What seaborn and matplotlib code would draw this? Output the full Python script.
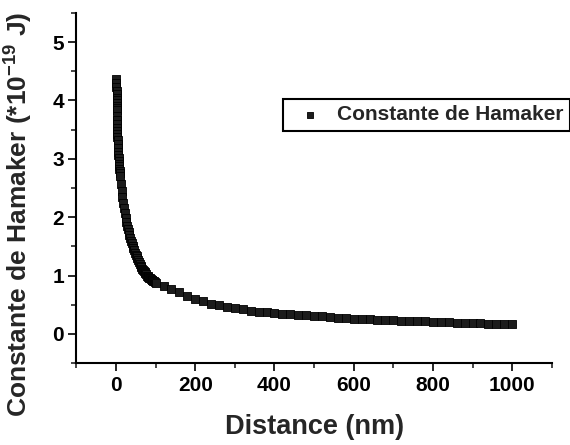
import matplotlib
matplotlib.use("Agg")
from matplotlib import pyplot as plt
from matplotlib.ticker import MultipleLocator
import seaborn as sns
import pandas as pd

# distancias (nm) y constante de Hamaker (*1e-19 J)
dist_near = [1.0, 1.1, 1.2, 1.3, 1.4, 1.5, 1.6, 1.7, 1.8, 1.9, 2.0,
             2.25, 2.5, 2.75, 3.0, 3.25, 3.5, 3.75, 4.0,
             4.5, 5, 5.5, 6, 6.5, 7, 7.5, 8, 8.5, 9, 9.5]
ham_near = [4.37, 4.30, 4.23, 4.17, 4.11, 4.05, 4.00, 3.95, 3.91, 3.87, 3.83,
            3.74, 3.66, 3.59, 3.53, 3.47, 3.42, 3.37, 3.33,
            3.25, 3.18, 3.12, 3.06, 3.01, 2.96, 2.91, 2.87, 2.83, 2.79, 2.75]

dist_mid = [10, 12, 14, 16, 18, 20, 22, 24, 26, 28, 30, 32, 34, 36, 38, 40, 42, 44, 46, 48,
            50, 52, 54, 56, 58, 60, 62, 64, 66, 68, 70, 72, 74, 76, 78, 80, 82, 84, 86, 88,
            90, 92, 94, 96, 98]
ham_mid = [2.70, 2.57, 2.45, 2.34, 2.24, 2.15, 2.07, 1.99, 1.92, 1.85,
           1.79, 1.74, 1.69, 1.64, 1.59, 1.55, 1.51, 1.47, 1.43, 1.39,
           1.36, 1.33, 1.30, 1.27, 1.24, 1.20, 1.17, 1.15, 1.12, 1.10,
           1.08, 1.06, 1.04, 1.02, 1.00, 0.99, 0.97, 0.96, 0.95, 0.94,
           0.93, 0.92, 0.91, 0.90, 0.89]

dist_far = [100, 120, 140, 160, 180, 200, 220, 240, 260, 280, 300, 320, 340, 360, 380,
            400, 420, 440, 460, 480, 500, 520, 540, 560, 580, 600, 620, 640, 660, 680,
            700, 720, 740, 760, 780, 800, 820, 840, 860, 880, 900, 920, 940, 960, 980, 1000]
ham_far = [0.88, 0.82, 0.77, 0.71, 0.65, 0.60, 0.56, 0.52, 0.49, 0.46,
           0.44, 0.42, 0.40, 0.38, 0.37, 0.36, 0.35, 0.34, 0.33, 0.32,
           0.31, 0.30, 0.29, 0.28, 0.27, 0.26, 0.255, 0.25, 0.245, 0.24,
           0.235, 0.23, 0.225, 0.22, 0.215, 0.21, 0.205, 0.20, 0.195, 0.19,
           0.185, 0.18, 0.178, 0.175, 0.172, 0.17]

df = pd.DataFrame({
    "distance": dist_near + dist_mid + dist_far,
    "hamaker": ham_near + ham_mid + ham_far,
})

sns.set_style("ticks")
plt.rcParams["font.family"] = ["Liberation Sans", "DejaVu Sans"]
plt.rcParams["font.weight"] = "bold"
plt.rcParams["mathtext.fontset"] = "custom"
plt.rcParams["mathtext.rm"] = "Liberation Sans:bold"
plt.rcParams["mathtext.bf"] = "Liberation Sans:bold"
plt.rcParams["mathtext.default"] = "bf"

fig = plt.figure(figsize=(5.7, 4.45), dpi=100)
ax = fig.add_axes([0.134, 0.184, 0.834, 0.787])

sns.scatterplot(data=df, x="distance", y="hamaker", marker="s", s=34,
                color="#1c1c1c", edgecolor="black", linewidth=0.6,
                label="Constante de Hamaker", ax=ax)

ax.set_xlim(-100, 1100)
ax.set_ylim(-0.5, 5.5)
ax.xaxis.set_major_locator(MultipleLocator(200))
ax.xaxis.set_minor_locator(MultipleLocator(100))
ax.yaxis.set_major_locator(MultipleLocator(1))
ax.yaxis.set_minor_locator(MultipleLocator(0.5))
sns.despine(ax=ax)
for side in ["left", "bottom"]:
    ax.spines[side].set_linewidth(1.5)
    ax.spines[side].set_color("black")
ax.tick_params(which="major", direction="out", length=6, width=1.2, pad=3,
               labelsize=15, colors="black")
ax.tick_params(which="minor", direction="out", length=3.5, width=1.2)
for lab in ax.get_xticklabels() + ax.get_yticklabels():
    lab.set_fontweight("bold")

ax.set_xlabel("Distance (nm)", fontsize=19.5, fontweight="bold")
ax.set_ylabel("Constante de Hamaker (*10$^{-19}$ J)", fontsize=19, fontweight="bold")
ax.xaxis.set_label_coords(0.5, -0.145)
ax.yaxis.set_label_coords(-0.086, 0.425)

leg = ax.legend(loc="upper left", bbox_to_anchor=(283 / 570, 1 - 99 / 445),
                bbox_transform=fig.transFigure, borderaxespad=0, borderpad=0.3,
                handletextpad=0.3, handlelength=2.0, markerscale=0.75,
                fancybox=False, framealpha=1, edgecolor="black",
                prop={"size": 15, "weight": "bold"})
leg.get_frame().set_linewidth(1.5)

fig.savefig("out.png", dpi=100)
